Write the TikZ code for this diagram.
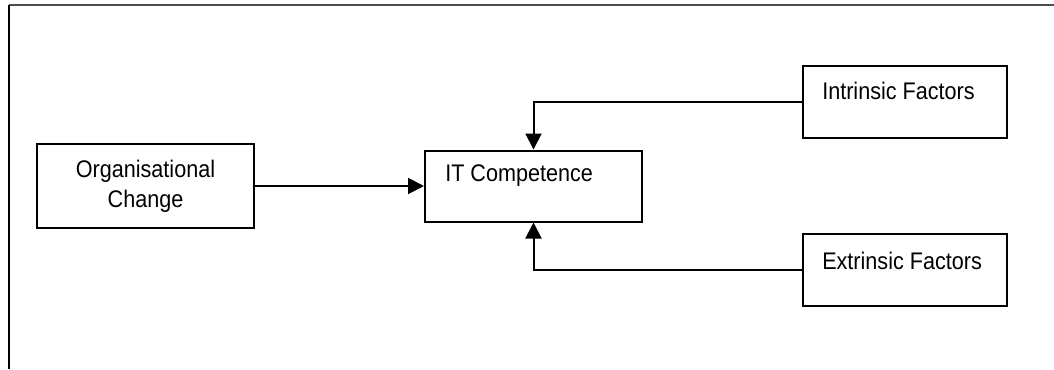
\documentclass[tikz,border=0pt]{standalone}
\usepackage{fontspec}
\setmainfont[FakeStretch=0.9]{Liberation Sans}
\usetikzlibrary{arrows.meta}

\begin{document}
\begin{tikzpicture}[x=0.75pt,y=-0.75pt,
  box/.style={draw,line width=1.5pt,inner sep=0pt},
  txt/.style={anchor=west,inner sep=0pt,font=\fontsize{18}{22.5}\selectfont},
  arr/.style={line width=1.5pt,-{Triangle[length=12pt,width=12pt]}}]
\useasboundingbox (0,0) rectangle (1054,369);
% frame
\draw[line width=1pt,black!70] (9,5) -- (1054,5);
\draw[line width=1.6pt] (9,5) -- (9,369);
% boxes
\node[box,minimum width=162.75pt,minimum height=63pt,align=center,
  font=\fontsize{18}{22.5}\selectfont] (org) at (145.5,186) {Organisational\\Change};
\node[box,minimum width=162.75pt,minimum height=53.25pt] (it) at (533.5,186) {};
\node[box,minimum width=153pt,minimum height=54pt] (intr) at (905,102) {};
\node[box,minimum width=153pt,minimum height=54pt] (extr) at (905,270) {};
\node[txt] (itlbl) at ([shift={(21,26)}]it.north west) {IT Competence};
\node[txt] (intrlbl) at ([shift={(20,26)}]intr.north west) {Intrinsic Factors};
\node[txt] (extrlbl) at ([shift={(20,28)}]extr.north west) {Extrinsic Factors};
% links
\draw[arr] (org.east) -- (it.west);
\draw[arr] (intr.west) -| (it.north);
\draw[arr] (extr.west) -| (it.south);
\end{tikzpicture}
\end{document}
